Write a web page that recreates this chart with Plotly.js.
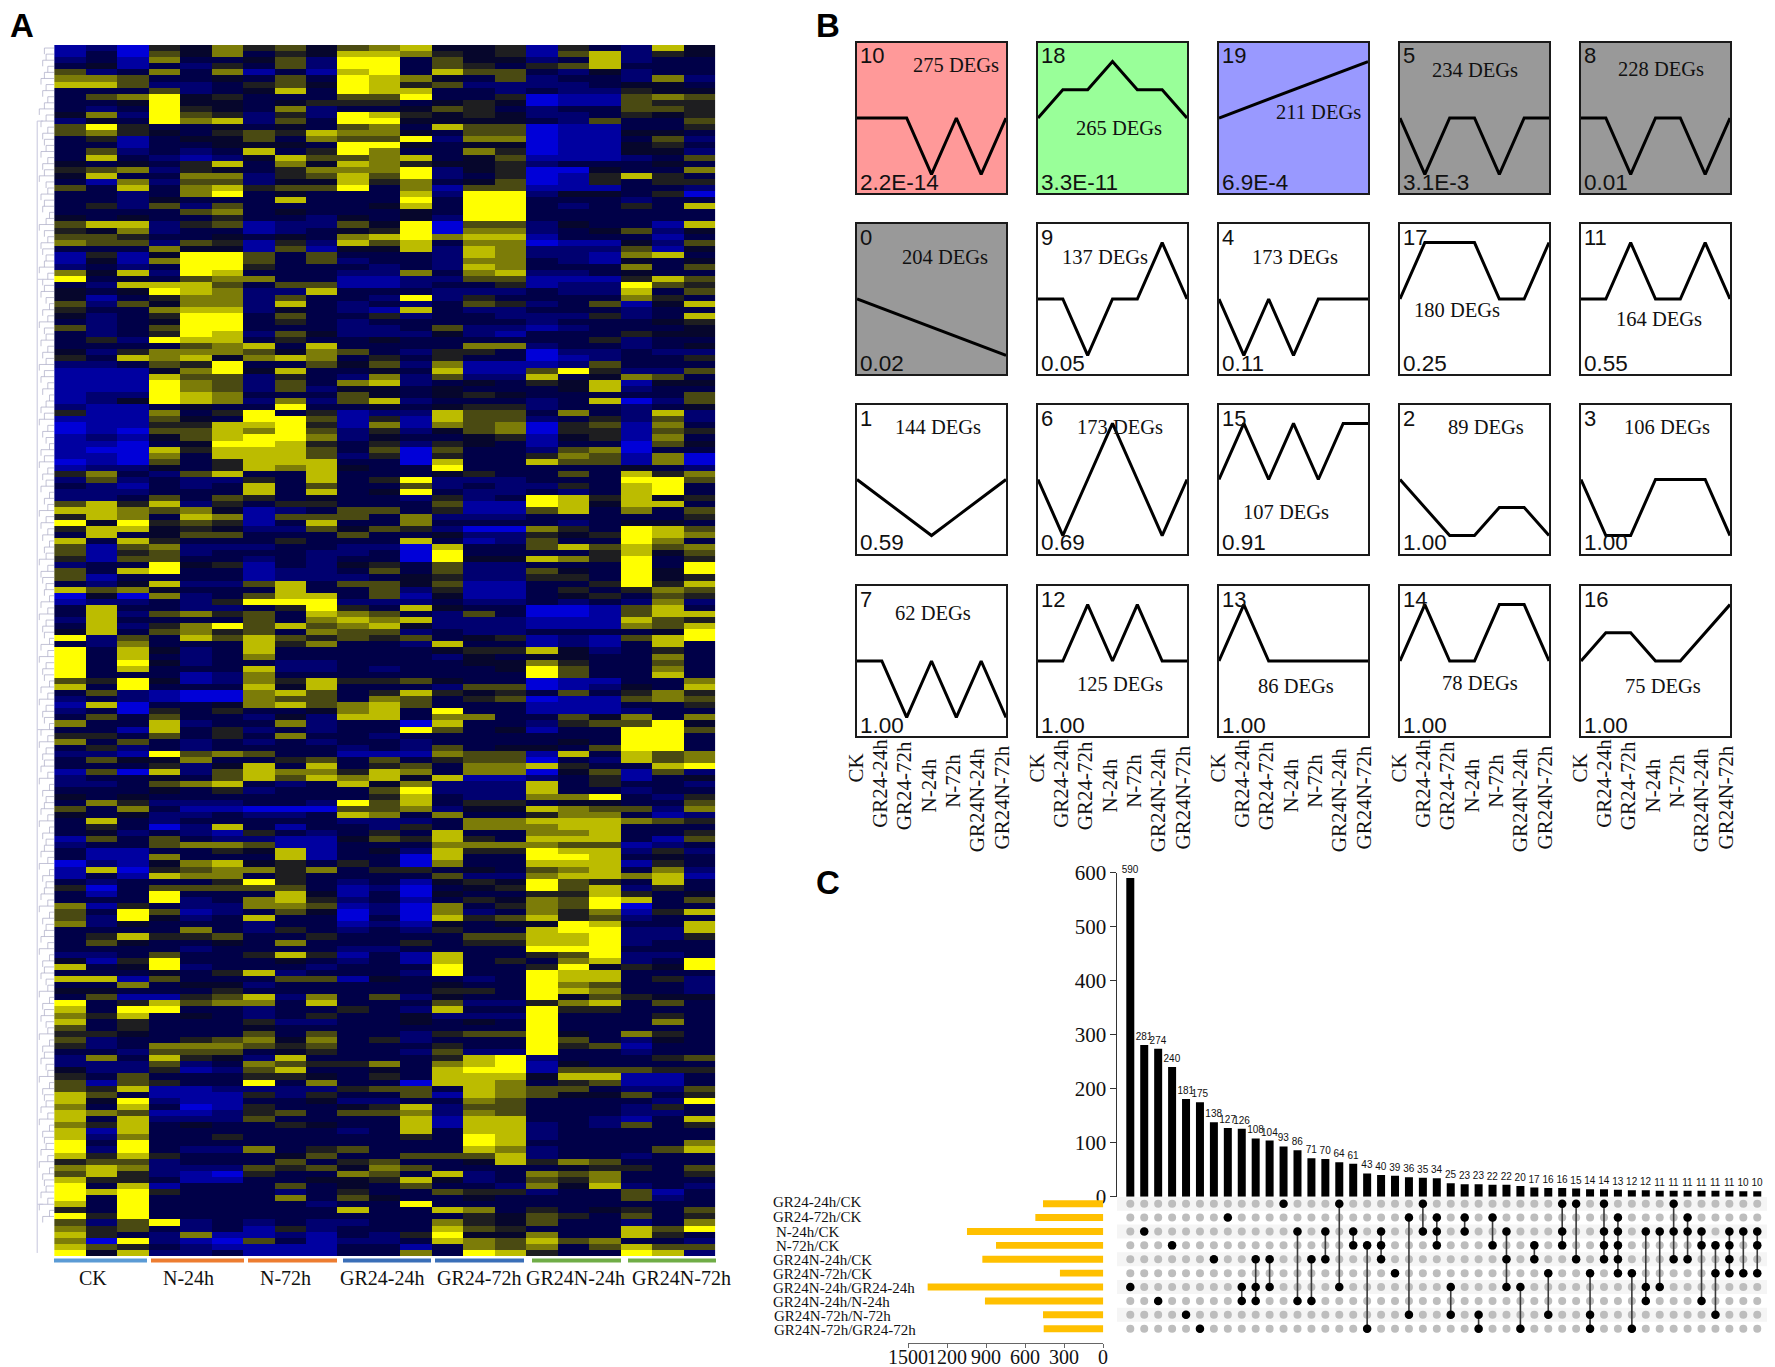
<!DOCTYPE html>
<html><head><meta charset="utf-8">
<script src="https://cdn.plot.ly/plotly-3.0.1.min.js"></script>
<style>html,body{margin:0;padding:0;background:#fff}#c{width:1775px;height:1367px}</style>
</head><body><div id="c"></div>
<script>
// ---------- Panel A: expression levels (0 = strong blue ... 9 = yellow), one string per gene block, 21 samples
const blockA = ["120547564678445153284","130647354887545168254","231733462993644238233","341325362993653568333","623737131893866324233","776334363987436233272","886223564985622223443","333623483988332322544","367945333669335011676","334944345553454011655","323954372334653233665","472965252985454223545","243978263994444326336","695334343673866011335","675435658774366011443","351344637669277011362","331334443994344011453","362323835973375011442","383212486678346111236","434358374875445233343","567254357779245004337","483377256869235015853","317266244857346015355","638378566937166111332","332379343338299244350","332433383339399333233","352626333348399323538","333367343334399333333","434335332434299333333","688256122649066243318","547233123459077234624","665334343789788133313","766265152868377011426","333744161448287222614","151499636333287221783","141799636233277321434","232399533323287333736","748298333227378223433","934367733112266111586","328886366112335122965"];
const blockB = ["434987228333222322836","413577263329253333753","626477283232365236148","533788243218322333233","423599363352332225238","323499353233333233345","623699333223622123334","323598264222421333544","352988353343333335233","333367838333377233234","425777647632553022322","538784787353533012335","223659336462711126333","111479483343811695226","111866253272622834763","111976263782343548144","111976262443433348233","122987333643454333336","124987272682333238026","211343393343455233234","511735935122866373282","111643996151866235262","011558895171767056173","010668796252467055165","121468997243345145173","110349985352543133064","100858886360633267033","110738886250533576170","010635888330833866170","122435878433933333432","573268338333453363857","262322538359222333996","321323836336232253893","222333838349322323893","223636534332523985845","685825355333611984883","887674123663511683736","587387166637222333335","949565138337333323443","588454226465200753986"];
const blockC = ["383466333633422545987","838533353338312633973","616722233220833686867","615623332230933335846","516633232330944875935","233945132453622333939","638933122363622643949","613333122234522553945","324822683664611335958","867433383362511353576","040723688361411345365","122325999222322323272","383322359538433001683","382675638763263001688","283333637878222111865","382579686784222111768","483675637662322333349","926386865656345121689","327333857332833121383","938423833333455842353","938323733333243443373","939423322333344753363","938333822323334963373","933312733333333963383","659412758556433011337","839333848333266012438","362100786358545363575","232100766376356011676","180334786786333111335","230535334783933111233","363633242883773364737","733823372330833256694","331835232339634133996","553635373323333333993","736323232332333343993","352323333232634436993","221967633111766183867","364473356363566032867","333524838356377853389","160826877587377046162"];
const blockD = ["233436868784811235134","223678323847222835332","333435233369222833233","434333333358322779325","375222332968355344336","637311000667244876627","434223223873733577312","383233333222377888765","353028313325377788333","342321532353833778335","163632211465853888316","233677611333777766123","311335481342855988252","311733381330833998343","021478453530733888153","180567757355343678372","131877353333622788781","323335953231454965383","503666663120345968253","313933384130433558534","333923785231354769836","715322776120735769033","639612364020723757158","629423833030856856233","724333233121434498338","333373253232533899228","358556335333366889225","364334373335355889233","333323333223333999333","223633585131833569223","415933343231835378239","834923332333933594549","333435823332933988333","881633366143323988352","337344233333433976332","443335333333553987332","361156827362433946544","935867738333622578363","839933233532833955333","758343235334222933353"];
const blockE = ["835333522334343933373","635333433333333933333","554333636332566943753","623356747352333963243","523777656333533956133","332666345332622933233","273854283333589233356","222623765573789143333","422512683343899166655","536333554353888488113","616533937330887356113","658112222566387663226","863111525336187644635","849211334223376333329","738301533458266333253","876112563667276333223","838222633338188332138","758343354338188232635","818333333238388233333","827335333335398233333","939333333333398333337","929322735633387233368","858533346336668233233","566233363563348576333","787222656476333345536","685210533763823767335","855311334458423657333","938133363436332748232","989533323533655233613","939333373643343333623","839333332339333333333","539333333833873534536","959333333333354653635","626923232233754633237","756323152333865333869","853271121325944733853","709210631223876867332","865321111331376736866","948223111337398533982"];
const heatZ = [...blockA, ...blockB, ...blockC, ...blockD, ...blockE].map(r => r.split("").map(Number));
const heatColumns = ["CK-1","CK-2","CK-3","N24-1","N24-2","N24-3","N72-1","N72-2","N72-3","G24-1","G24-2","G24-3","G72-1","G72-2","G72-3","GN24-1","GN24-2","GN24-3","GN72-1","GN72-2","GN72-3"];
const groupNames = ["CK","N-24h","N-72h","GR24-24h","GR24-72h","GR24N-24h","GR24N-72h"];
const dendroLeaf = "4352463524736254362547326451374265347254631527436253746251364725316472536142736251437265341627354162735416273541627354627153462715346271534627153462715463271546327154632715436271543627154362715";

// ---------- Panel B: STEM profiles
const stages = ["CK","GR24-24h","GR24-72h","N-24h","N-72h","GR24N-24h","GR24N-72h"];
const clusterIds = [10,18,19,5,8,0,9,4,17,11,1,6,15,2,3,7,12,13,14,16];
const degCounts = [275,265,211,234,228,204,137,173,180,164,144,173,107,89,106,62,125,86,78,75];
const pValues = ["2.2E-14","3.3E-11","6.9E-4","3.1E-3","0.01","0.02","0.05","0.11","0.25","0.55","0.59","0.69","0.91","1.00","1.00","1.00","1.00","1.00","1.00","1.00"];
const profiles = [
[0,0,0,-1,0,-1,0],[0,1,1,2,1,1,0],[0,1,2,3,4,5,6],[0,-1,0,0,-1,0,0],[0,0,-1,0,0,-1,0],
[0,-1,-2,-3,-4,-5,-6],[0,0,-1,0,0,1,0],[0,-1,0,-1,0,0,0],[0,1,1,1,0,0,1],[0,0,1,0,0,1,0],
[0,-1,-2,-3,-2,-1,0],[0,-1,0,1,0,-1,0],[0,1,0,1,0,1,1],[0,-1,-2,-2,-1,-1,-2],[0,-1,-1,0,0,0,-1],
[0,0,-1,0,-1,0,-1],[0,0,1,0,1,0,0],[0,1,0,0,0,0,0],[0,1,0,0,1,1,0],[0,1,1,0,0,1,2]];
const panelFill = ["#ff9999","#99ff99","#9999ff","#999999","#999999","#999999"];
const degLabelX = [.667,.543,.671,.506,.539,.588,.453,.510,.383,.523,.543,.547,.453,.578,.576,.510,.547,.519,.539,.551];
const degLabelY = [.148,.567,.457,.177,.172,.219,.219,.219,.574,.634,.150,.150,.715,.150,.150,.181,.653,.667,.645,.667];

// ---------- Panel C: UpSet
const setNames = ["GR24-24h/CK","GR24-72h/CK","N-24h/CK","N-72h/CK","GR24N-24h/CK","GR24N-72h/CK","GR24N-24h/GR24-24h","GR24N-24h/N-24h","GR24N-72h/N-72h","GR24N-72h/GR24-72h"];
const setSizes = [463,522,1047,824,929,333,1349,909,463,458];
const setAxisTicks = [1500,1200,900,600,300,0];
const intersectionSizes = [590,281,274,240,181,175,138,127,126,108,104,93,86,71,70,64,61,43,40,39,36,35,34,25,23,23,22,22,20,17,16,16,15,14,14,13,12,12,11,11,11,11,11,11,10,10];
const memberships = [[6],[2],[7],[3],[8],[9],[4],[1],[6,7],[4,6,7],[4,6],[0],[2,7],[4,7],[2,4],[0,6],[2,3],[3,9],[2,3,4],[5],[1,8],[0,2],[1,2,3],[6,8],[1,2],[8,9],[1,3],[2,4,6],[6,9],[3,4],[5,8],[0,2,3],[0,4],[5,8,9],[0,2,3,4],[1,2,3,4,5],[5,9],[2,6,7],[2,6],[0,2,4],[1,2,4],[2,3,7],[3,5,8],[2,3,4,5],[2,5],[2,3,5]];

// ---------- layout helpers
const W=1775,H=1367, SERIF="Liberation Serif", SANS="Liberation Sans";
const fx=p=>p/W, fy=p=>1-p/H;
const dx=(a,b)=>[fx(a),fx(b)], dy=(top,bottom)=>[fy(bottom),fy(top)];
const hidden={visible:false,fixedrange:true};
const layout={width:W,height:H,margin:{l:0,r:0,t:0,b:0},paper_bgcolor:"#fff",plot_bgcolor:"rgba(0,0,0,0)",showlegend:false,shapes:[],annotations:[],hovermode:false};
const traces=[];
const note=(text,x,y,size,family,extra)=>layout.annotations.push(Object.assign({text,x:fx(x),y:fy(y),xref:"paper",yref:"paper",showarrow:false,font:{size,family,color:"#111"},xanchor:"center",yanchor:"middle"},extra||{}));

// Panel A
layout.xaxis=Object.assign({domain:dx(54.2,715.5),range:[-.5,20.5]},hidden);
layout.yaxis=Object.assign({domain:dy(45,1256),range:[heatZ.length-.5,-.5]},hidden);
traces.push({type:"heatmap",z:heatZ,x:heatColumns.map((_,i)=>i),xaxis:"x",yaxis:"y",zmin:0,zmax:9,showscale:false,hoverinfo:"skip",
 colorscale:[[0,"#0000d8"],[.111,"#0000a0"],[.222,"#000070"],[.333,"#000048"],[.444,"#06062c"],[.556,"#1e1e20"],[.667,"#4a4a12"],[.778,"#7c7c08"],[.889,"#bcbc00"],[1,"#ffff00"]]});
layout.xaxis2=Object.assign({domain:dx(36,54.2),range:[18.2,0],anchor:"y2"},hidden);
layout.yaxis2=Object.assign({domain:dy(45,1256),range:[heatZ.length-.5,-.5],anchor:"x2"},hidden);
const dX=[],dY=[];
dendroLeaf.split("").forEach((c,i)=>{const d=+c*1.7+3;dX.push(0,d,d,null);dY.push(i,i,i+1,null);});
traces.push({type:"scatter",mode:"lines",x:dX,y:dY,xaxis:"x2",yaxis:"y2",line:{color:"#a9a9c4",width:.7},hoverinfo:"skip"});
const dendroTrunk=[[12,38],[38,112],[112,190],[190,198]];
const tX=[],tY=[];
dendroTrunk.forEach(s=>{tX.push(17,17,null,17,11,null);tY.push(s[0],s[1],null,s[0],s[0],null);});
traces.push({type:"scatter",mode:"lines",x:tX,y:tY,xaxis:"x2",yaxis:"y2",line:{color:"#c6c6dc",width:1},hoverinfo:"skip"});
const groupBars=[[54,147,"#5b9bd5"],[151,244,"#ed7d31"],[248,337,"#ed7d31"],[343,431,"#3a6fb8"],[435,524,"#3a6fb8"],[532,621,"#70ad47"],[628,716,"#70ad47"]];
groupBars.forEach(b=>layout.shapes.push({type:"rect",xref:"paper",yref:"paper",x0:fx(b[0]),x1:fx(b[1]),y0:fy(1262.5),y1:fy(1258.5),fillcolor:b[2],line:{width:0}}));
const groupLabelX=[93,188,285,382,479,575,681];
groupNames.forEach((g,i)=>note(g,groupLabelX[i],1278,20,SERIF));
const letterFont={size:33,family:SANS,color:"#000"};
note("<b>A</b>",22,26,33,SANS,{font:letterFont});
note("<b>B</b>",828,25,33,SANS,{font:letterFont});
note("<b>C</b>",828,882,33,SANS,{font:letterFont});

// Panel B
const colX=[[857,1006],[1038,1187],[1219,1368],[1400,1549],[1581,1730]];
const rowY=[[43,193],[224,374],[405,554],[586,736]];
const stageCentreY=[768,783,786,786,781,800,798];
clusterIds.forEach((id,i)=>{
 const n=i+3, c=colX[i%5], r=rowY[Math.floor(i/5)], prof=profiles[i];
 const mx=Math.max(...prof.map(Math.abs))*1.33;
 const axis={showline:true,mirror:true,linecolor:"#1a1a1a",linewidth:2,showgrid:false,zeroline:false,showticklabels:false,ticks:"",fixedrange:true};
 layout["xaxis"+n]=Object.assign({domain:dx(c[0],c[1]),range:[0,6],anchor:"y"+n},axis);
 layout["yaxis"+n]=Object.assign({domain:dy(r[0],r[1]),range:[-mx,mx],anchor:"x"+n},axis);
 if(i<6) layout.shapes.push({type:"rect",layer:"below",xref:"paper",yref:"paper",x0:fx(c[0]),x1:fx(c[1]),y0:fy(r[1]),y1:fy(r[0]),fillcolor:panelFill[i],line:{width:0}});
 traces.push({type:"scatter",mode:"lines",x:stages.map((_,k)=>k),y:prof,xaxis:"x"+n,yaxis:"y"+n,line:{color:"#000",width:3},hoverinfo:"skip"});
 const w=c[1]-c[0],h=r[1]-r[0];
 note(String(id),c[0]+.5,r[0]+13,22,SANS,{xanchor:"left"});
 note(pValues[i],c[0]+.5,r[1]-11,22.5,SANS,{xanchor:"left"});
 note(degCounts[i]+" DEGs",c[0]+degLabelX[i]*w,r[0]+degLabelY[i]*h,20.5,SERIF);
 if(i>=15) stages.forEach((s,k)=>note(s,c[0]+k*w/6*.98-1.5,stageCentreY[k],21,SERIF,{textangle:-90}));
});

// Panel C
const nb=23, nm=24, nl=25;
const xr=[-.926,45.7];
layout["xaxis"+nb]=Object.assign({domain:dx(1117.4,1767),range:xr,anchor:"y"+nb},hidden);
layout["yaxis"+nb]={domain:dy(872.7,1196.7),range:[0,600],anchor:"x"+nb,showline:true,linecolor:"#333",linewidth:1,ticks:"outside",ticklen:6,tickcolor:"#333",tickvals:[0,100,200,300,400,500,600],showgrid:false,zeroline:false,tickfont:{family:SERIF,size:21,color:"#111"},fixedrange:true};
traces.push({type:"bar",x:intersectionSizes.map((_,i)=>i),y:intersectionSizes,xaxis:"x"+nb,yaxis:"y"+nb,width:.574,marker:{color:"#000"},text:intersectionSizes.map(String),textposition:"outside",textangle:0,constraintext:"none",textfont:{family:SANS,size:10,color:"#111"},cliponaxis:false,hoverinfo:"skip"});
layout["xaxis"+nm]=Object.assign({domain:dx(1117.4,1767),range:xr,anchor:"y"+nm},hidden);
layout["yaxis"+nm]=Object.assign({domain:dy(1196.75,1335.65),range:[9.5,-.5],anchor:"x"+nm},hidden);
setNames.forEach((s,i)=>{ if(i%2==0) layout.shapes.push({type:"rect",layer:"below",xref:"paper",yref:"y"+nm,x0:fx(1117),x1:fx(1767),y0:i-.5,y1:i+.5,fillcolor:"#f5f5f5",line:{width:0}}); });
const gx=[],gy=[],bx=[],by=[],lx=[],ly=[];
memberships.forEach((m,c)=>{
 setNames.forEach((_,r)=>{gx.push(c);gy.push(r);});
 m.forEach(r=>{bx.push(c);by.push(r);});
 if(m.length>1){lx.push(c,c,null);ly.push(Math.min(...m),Math.max(...m),null);}
});
traces.push({type:"scatter",mode:"markers",x:gx,y:gy,xaxis:"x"+nm,yaxis:"y"+nm,marker:{color:"#bdbdbd",size:8},hoverinfo:"skip"});
traces.push({type:"scatter",mode:"lines",x:lx,y:ly,xaxis:"x"+nm,yaxis:"y"+nm,line:{color:"#3a3a3a",width:1.6},hoverinfo:"skip"});
traces.push({type:"scatter",mode:"markers",x:bx,y:by,xaxis:"x"+nm,yaxis:"y"+nm,marker:{color:"#000",size:8.5},hoverinfo:"skip"});
layout["xaxis"+nl]={domain:dx(908,1103.3),range:[1500,0],anchor:"free",position:fy(1342.7),showline:true,linecolor:"#666",linewidth:1.2,ticks:"outside",ticklen:4,tickcolor:"#666",tickvals:setAxisTicks,showticklabels:false,showgrid:false,zeroline:false,fixedrange:true};
layout["yaxis"+nl]=Object.assign({domain:dy(1196.75,1335.65),range:[9.5,-.5],anchor:"x"+nl},hidden);
traces.push({type:"bar",orientation:"h",y:setNames.map((_,i)=>i),x:setSizes,xaxis:"x"+nl,yaxis:"y"+nl,width:.5,marker:{color:"#ffc000"},hoverinfo:"skip"});
setAxisTicks.forEach(t=>layout.annotations.push({text:String(t),x:t,xref:"x"+nl,y:fy(1357),yref:"paper",showarrow:false,xanchor:"center",yanchor:"middle",font:{family:SERIF,size:20,color:"#111"}}));
const setLabelX=[770.7,770.7,773.7,773.7,770.7,770.7,770.7,770.7,772,772];
const setLabelY=[1201.7,1216.7,1231.7,1246.3,1260.3,1274,1287.7,1302,1316,1330.3];
setNames.forEach((s,i)=>note(s,setLabelX[i],setLabelY[i],15,SERIF,{xanchor:"left"}));

Plotly.newPlot("c",traces,layout,{staticPlot:true,displayModeBar:false});
</script></body></html>
